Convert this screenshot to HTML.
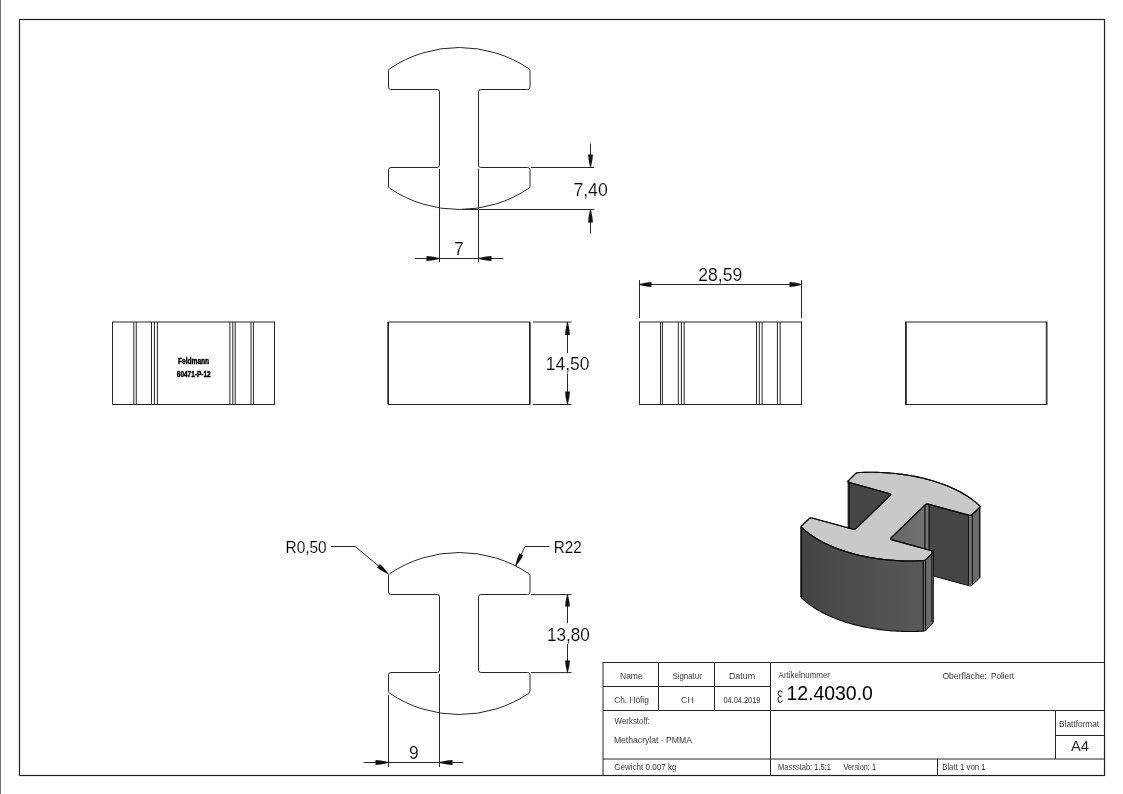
<!DOCTYPE html>
<html><head><meta charset="utf-8"><title>Drawing</title>
<style>html,body{margin:0;padding:0;background:#fff;overflow:hidden}svg{display:block;will-change:transform}</style>
</head><body>
<svg width="1123" height="794" viewBox="0 0 1123 794">
<rect x="0" y="0" width="1123" height="794" fill="#fff"/>
<line x1="0.5" y1="0" x2="0.5" y2="794" stroke="#707070" stroke-width="1"/>
<rect x="19.5" y="19.5" width="1085" height="756" fill="none" stroke="#1e1e1e" stroke-width="1.2"/>
<path d="M388.5,70.8 Q388.5,69.5 389.6,68.75 A124.77,124.77 0 0 1 528.9,68.75 Q530,69.5 530,70.8 L530,87.1 Q530,89.5 527.6,89.5 L480.9,89.5 Q478.5,89.5 478.5,91.9 L478.5,165.1 Q478.5,167.5 480.9,167.5 L527.6,167.5 Q530,167.5 530,169.9 L530,186.2 Q530,187.5 528.9,188.25 A124.77,124.77 0 0 1 389.6,188.25 Q388.5,187.5 388.5,186.2 L388.5,169.9 Q388.5,167.5 390.9,167.5 L437.1,167.5 Q439.5,167.5 439.5,165.1 L439.5,91.9 Q439.5,89.5 437.1,89.5 L390.9,89.5 Q388.5,89.5 388.5,87.1 Z" fill="none" stroke="#262626" stroke-width="1"/>
<line x1="531" y1="167.5" x2="594" y2="167.5" stroke="#262626" stroke-width="1"/>
<line x1="462" y1="209.5" x2="594" y2="209.5" stroke="#262626" stroke-width="1"/>
<line x1="590.5" y1="143.5" x2="590.5" y2="168" stroke="#262626" stroke-width="1"/>
<line x1="590.5" y1="210" x2="590.5" y2="233.5" stroke="#262626" stroke-width="1"/>
<polygon points="590.90,167.50 592.42,159.70 592.90,154.50 588.10,154.50 588.58,159.70 590.10,167.50" fill="#111" stroke="none" stroke-width="1"/>
<polygon points="590.10,209.50 588.58,217.30 588.10,222.50 592.90,222.50 592.42,217.30 590.90,209.50" fill="#111" stroke="none" stroke-width="1"/>
<text x="573.40" y="196.10" font-family="Liberation Sans" font-size="17.88" font-weight="normal" fill="#000" stroke="#fff" stroke-width="0.15" textLength="34.29" lengthAdjust="spacingAndGlyphs">7,40</text>
<line x1="439.5" y1="169" x2="439.5" y2="262" stroke="#262626" stroke-width="1"/>
<line x1="478.5" y1="169" x2="478.5" y2="262" stroke="#262626" stroke-width="1"/>
<line x1="415" y1="258.5" x2="503" y2="258.5" stroke="#262626" stroke-width="1"/>
<polygon points="439.50,258.10 431.70,256.58 426.50,256.10 426.50,260.90 431.70,260.42 439.50,258.90" fill="#111" stroke="none" stroke-width="1"/>
<polygon points="478.50,258.90 486.30,260.42 491.50,260.90 491.50,256.10 486.30,256.58 478.50,258.10" fill="#111" stroke="none" stroke-width="1"/>
<text x="454.10" y="255.00" font-family="Liberation Sans" font-size="18.75" font-weight="normal" fill="#000" stroke="#fff" stroke-width="0.15" textLength="9.79" lengthAdjust="spacingAndGlyphs">7</text>
<rect x="112.5" y="322" width="162.0" height="82.5" fill="none" stroke="#262626" stroke-width="1"/>
<line x1="133.8" y1="322" x2="133.8" y2="404.5" stroke="#262626" stroke-width="1"/>
<line x1="136.25" y1="322" x2="136.25" y2="404.5" stroke="#262626" stroke-width="1"/>
<line x1="151.5" y1="322" x2="151.5" y2="404.5" stroke="#262626" stroke-width="1"/>
<line x1="154.4" y1="322" x2="154.4" y2="404.5" stroke="#262626" stroke-width="1"/>
<line x1="157.4" y1="322" x2="157.4" y2="404.5" stroke="#262626" stroke-width="1"/>
<line x1="229.9" y1="322" x2="229.9" y2="404.5" stroke="#262626" stroke-width="1"/>
<line x1="232.8" y1="322" x2="232.8" y2="404.5" stroke="#262626" stroke-width="1"/>
<line x1="235.2" y1="322" x2="235.2" y2="404.5" stroke="#262626" stroke-width="1"/>
<line x1="251" y1="322" x2="251" y2="404.5" stroke="#262626" stroke-width="1"/>
<line x1="253.4" y1="322" x2="253.4" y2="404.5" stroke="#262626" stroke-width="1"/>
<text x="178.06" y="363.80" font-family="Liberation Sans" font-size="8.43" font-weight="bold" fill="#000" stroke="#000" stroke-width="0.45" textLength="31.05" lengthAdjust="spacingAndGlyphs">Feldmann</text>
<text x="176.86" y="376.70" font-family="Liberation Sans" font-size="8.43" font-weight="bold" fill="#000" stroke="#000" stroke-width="0.45" textLength="33.69" lengthAdjust="spacingAndGlyphs">60471-P-12</text>
<rect x="388.5" y="322" width="141.0" height="82.5" fill="none" stroke="#262626" stroke-width="1"/>
<line x1="387.8" y1="322" x2="387.8" y2="404.5" stroke="#262626" stroke-width="1"/>
<line x1="530.2" y1="322" x2="530.2" y2="404.5" stroke="#262626" stroke-width="1"/>
<line x1="533" y1="322" x2="571.5" y2="322" stroke="#262626" stroke-width="1"/>
<line x1="533" y1="404.5" x2="571.5" y2="404.5" stroke="#262626" stroke-width="1"/>
<line x1="567.5" y1="322" x2="567.5" y2="353" stroke="#262626" stroke-width="1"/>
<line x1="567.5" y1="373.5" x2="567.5" y2="404.5" stroke="#262626" stroke-width="1"/>
<polygon points="567.10,322.00 565.58,329.80 565.10,335.00 569.90,335.00 569.42,329.80 567.90,322.00" fill="#111" stroke="none" stroke-width="1"/>
<polygon points="567.90,404.50 569.42,396.70 569.90,391.50 565.10,391.50 565.58,396.70 567.10,404.50" fill="#111" stroke="none" stroke-width="1"/>
<text x="545.67" y="369.90" font-family="Liberation Sans" font-size="17.44" font-weight="normal" fill="#000" stroke="#fff" stroke-width="0.15" textLength="43.82" lengthAdjust="spacingAndGlyphs">14,50</text>
<rect x="639.5" y="322" width="162.0" height="82.5" fill="none" stroke="#262626" stroke-width="1"/>
<line x1="660.5" y1="322" x2="660.5" y2="404.5" stroke="#262626" stroke-width="1"/>
<line x1="662.4" y1="322" x2="662.4" y2="404.5" stroke="#262626" stroke-width="1"/>
<line x1="678.3" y1="322" x2="678.3" y2="404.5" stroke="#262626" stroke-width="1"/>
<line x1="681.4" y1="322" x2="681.4" y2="404.5" stroke="#262626" stroke-width="1"/>
<line x1="684.2" y1="322" x2="684.2" y2="404.5" stroke="#262626" stroke-width="1"/>
<line x1="756.5" y1="322" x2="756.5" y2="404.5" stroke="#262626" stroke-width="1"/>
<line x1="759.3" y1="322" x2="759.3" y2="404.5" stroke="#262626" stroke-width="1"/>
<line x1="762.1" y1="322" x2="762.1" y2="404.5" stroke="#262626" stroke-width="1"/>
<line x1="777.4" y1="322" x2="777.4" y2="404.5" stroke="#262626" stroke-width="1"/>
<line x1="780.2" y1="322" x2="780.2" y2="404.5" stroke="#262626" stroke-width="1"/>
<line x1="639.5" y1="280" x2="639.5" y2="318" stroke="#262626" stroke-width="1"/>
<line x1="801.5" y1="280" x2="801.5" y2="318" stroke="#262626" stroke-width="1"/>
<line x1="639.5" y1="284.5" x2="801.5" y2="284.5" stroke="#262626" stroke-width="1"/>
<polygon points="639.50,284.90 646.70,286.42 651.50,286.90 651.50,282.10 646.70,282.58 639.50,284.10" fill="#111" stroke="none" stroke-width="1"/>
<polygon points="801.50,284.10 794.30,282.58 789.50,282.10 789.50,286.90 794.30,286.42 801.50,284.90" fill="#111" stroke="none" stroke-width="1"/>
<text x="698.32" y="280.70" font-family="Liberation Sans" font-size="18.46" font-weight="normal" fill="#000" stroke="#fff" stroke-width="0.15" textLength="43.91" lengthAdjust="spacingAndGlyphs">28,59</text>
<rect x="905.5" y="322" width="141.5" height="82.5" fill="none" stroke="#262626" stroke-width="1"/>
<line x1="906.3" y1="322" x2="906.3" y2="404.5" stroke="#262626" stroke-width="1"/>
<line x1="1046.3" y1="322" x2="1046.3" y2="404.5" stroke="#262626" stroke-width="1"/>
<path d="M388.5,575.8 Q388.5,574.5 389.6,573.75 A124.77,124.77 0 0 1 528.9,573.75 Q530,574.5 530,575.8 L530,592.1 Q530,594.5 527.6,594.5 L480.9,594.5 Q478.5,594.5 478.5,596.9 L478.5,670.1 Q478.5,672.5 480.9,672.5 L527.6,672.5 Q530,672.5 530,674.9 L530,691.2 Q530,692.5 528.9,693.25 A124.77,124.77 0 0 1 389.6,693.25 Q388.5,692.5 388.5,691.2 L388.5,674.9 Q388.5,672.5 390.9,672.5 L437.1,672.5 Q439.5,672.5 439.5,670.1 L439.5,596.9 Q439.5,594.5 437.1,594.5 L390.9,594.5 Q388.5,594.5 388.5,592.1 Z" fill="none" stroke="#262626" stroke-width="1"/>
<text x="285.53" y="552.60" font-family="Liberation Sans" font-size="16.57" font-weight="normal" fill="#000" stroke="#fff" stroke-width="0.15" textLength="41.17" lengthAdjust="spacingAndGlyphs">R0,50</text>
<line x1="330.8" y1="546.5" x2="355.1" y2="546.5" stroke="#262626" stroke-width="1"/>
<line x1="355.1" y1="546.5" x2="388.1" y2="573.8" stroke="#262626" stroke-width="1"/>
<polygon points="388.35,573.49 383.49,567.60 379.93,564.06 377.00,567.60 381.15,570.44 387.85,574.11" fill="#111" stroke="none" stroke-width="1"/>
<text x="553.65" y="553.00" font-family="Liberation Sans" font-size="17.01" font-weight="normal" fill="#000" stroke="#fff" stroke-width="0.15" textLength="28.02" lengthAdjust="spacingAndGlyphs">R22</text>
<line x1="525.1" y1="546.5" x2="549.5" y2="546.5" stroke="#262626" stroke-width="1"/>
<line x1="525.1" y1="546.5" x2="515.7" y2="565.7" stroke="#262626" stroke-width="1"/>
<polygon points="516.06,565.88 520.65,559.77 523.26,555.48 519.13,553.46 517.35,558.15 515.34,565.52" fill="#111" stroke="none" stroke-width="1"/>
<line x1="531" y1="594.6" x2="571.6" y2="594.6" stroke="#262626" stroke-width="1"/>
<line x1="531" y1="672.6" x2="571.6" y2="672.6" stroke="#262626" stroke-width="1"/>
<line x1="567.5" y1="594.6" x2="567.5" y2="623.2" stroke="#262626" stroke-width="1"/>
<line x1="567.5" y1="644" x2="567.5" y2="672.6" stroke="#262626" stroke-width="1"/>
<polygon points="567.10,594.60 565.58,601.80 565.10,606.60 569.90,606.60 569.42,601.80 567.90,594.60" fill="#111" stroke="none" stroke-width="1"/>
<polygon points="567.90,672.60 569.42,665.40 569.90,660.60 565.10,660.60 565.58,665.40 567.10,672.60" fill="#111" stroke="none" stroke-width="1"/>
<text x="546.99" y="640.70" font-family="Liberation Sans" font-size="18.17" font-weight="normal" fill="#000" stroke="#fff" stroke-width="0.15" textLength="42.87" lengthAdjust="spacingAndGlyphs">13,80</text>
<line x1="388.5" y1="695" x2="388.5" y2="767" stroke="#262626" stroke-width="1"/>
<line x1="439.5" y1="674" x2="439.5" y2="767" stroke="#262626" stroke-width="1"/>
<line x1="364" y1="762.5" x2="463" y2="762.5" stroke="#262626" stroke-width="1"/>
<polygon points="388.50,762.10 380.70,760.58 375.50,760.10 375.50,764.90 380.70,764.42 388.50,762.90" fill="#111" stroke="none" stroke-width="1"/>
<polygon points="439.50,762.90 447.30,764.42 452.50,764.90 452.50,760.10 447.30,760.58 439.50,762.10" fill="#111" stroke="none" stroke-width="1"/>
<text x="408.89" y="759.30" font-family="Liberation Sans" font-size="18.60" font-weight="normal" fill="#000" stroke="#fff" stroke-width="0.15" textLength="9.63" lengthAdjust="spacingAndGlyphs">9</text>
<line x1="603" y1="662.5" x2="1104.5" y2="662.5" stroke="#262626" stroke-width="1"/>
<line x1="603.0" y1="662" x2="603.0" y2="775.5" stroke="#262626" stroke-width="1"/>
<line x1="603" y1="686.5" x2="770.5" y2="686.5" stroke="#262626" stroke-width="1"/>
<line x1="603" y1="710.5" x2="1104.5" y2="710.5" stroke="#262626" stroke-width="1"/>
<line x1="603" y1="759.0" x2="1104.5" y2="759.0" stroke="#262626" stroke-width="1"/>
<line x1="1055.5" y1="735.5" x2="1104.5" y2="735.5" stroke="#262626" stroke-width="1"/>
<line x1="658.5" y1="662.5" x2="658.5" y2="710.5" stroke="#262626" stroke-width="1"/>
<line x1="714.5" y1="662.5" x2="714.5" y2="710.5" stroke="#262626" stroke-width="1"/>
<line x1="770.5" y1="662.5" x2="770.5" y2="775.5" stroke="#262626" stroke-width="1"/>
<line x1="937.5" y1="759.0" x2="937.5" y2="775.5" stroke="#262626" stroke-width="1"/>
<line x1="1055.5" y1="710.5" x2="1055.5" y2="759.0" stroke="#262626" stroke-width="1"/>
<text x="620.00" y="679.00" font-family="Liberation Sans" font-size="8.14" font-weight="normal" fill="#111" stroke="#fff" stroke-width="0.08" textLength="22.68" lengthAdjust="spacingAndGlyphs">Name</text>
<text x="672.44" y="679.00" font-family="Liberation Sans" font-size="8.14" font-weight="normal" fill="#111" stroke="#fff" stroke-width="0.08" textLength="29.39" lengthAdjust="spacingAndGlyphs">Signatur</text>
<text x="728.97" y="679.00" font-family="Liberation Sans" font-size="8.14" font-weight="normal" fill="#111" stroke="#fff" stroke-width="0.08" textLength="26.11" lengthAdjust="spacingAndGlyphs">Datum</text>
<text x="614.18" y="702.90" font-family="Liberation Sans" font-size="9.16" font-weight="normal" fill="#111" stroke="#fff" stroke-width="0.08" textLength="34.66" lengthAdjust="spacingAndGlyphs">Ch. Höfig</text>
<text x="681.05" y="703.10" font-family="Liberation Sans" font-size="8.87" font-weight="normal" fill="#111" stroke="#fff" stroke-width="0.08" textLength="12.66" lengthAdjust="spacingAndGlyphs">CH</text>
<text x="723.41" y="703.10" font-family="Liberation Sans" font-size="8.87" font-weight="normal" fill="#111" stroke="#fff" stroke-width="0.08" textLength="37.04" lengthAdjust="spacingAndGlyphs">04.04.2019</text>
<text x="614.57" y="723.90" font-family="Liberation Sans" font-size="8.14" font-weight="normal" fill="#111" stroke="#fff" stroke-width="0.08" textLength="35.35" lengthAdjust="spacingAndGlyphs">Werkstoff:</text>
<text x="613.89" y="743.20" font-family="Liberation Sans" font-size="9.45" font-weight="normal" fill="#111" stroke="#fff" stroke-width="0.08" textLength="78.12" lengthAdjust="spacingAndGlyphs">Methacrylat - PMMA</text>
<text x="614.19" y="770.40" font-family="Liberation Sans" font-size="9.30" font-weight="normal" fill="#111" stroke="#fff" stroke-width="0.08" textLength="62.33" lengthAdjust="spacingAndGlyphs">Gewicht 0.007 kg</text>
<text x="778.58" y="678.20" font-family="Liberation Sans" font-size="8.14" font-weight="normal" fill="#111" stroke="#fff" stroke-width="0.08" textLength="51.45" lengthAdjust="spacingAndGlyphs">Artikelnummer</text>
<text x="777.0" y="702.6" font-family="Liberation Sans" font-size="23" fill="#111" stroke="#fff" stroke-width="0.35" textLength="6.2" lengthAdjust="spacingAndGlyphs">ε</text>
<text x="786.42" y="699.90" font-family="Liberation Sans" font-size="19.77" font-weight="normal" fill="#000" textLength="86.44" lengthAdjust="spacingAndGlyphs">12.4030.0</text>
<text x="777.98" y="770.40" font-family="Liberation Sans" font-size="8.58" font-weight="normal" fill="#111" stroke="#fff" stroke-width="0.08" textLength="52.98" lengthAdjust="spacingAndGlyphs">Massstab: 1.5:1</text>
<text x="843.47" y="770.40" font-family="Liberation Sans" font-size="8.58" font-weight="normal" fill="#111" stroke="#fff" stroke-width="0.08" textLength="32.48" lengthAdjust="spacingAndGlyphs">Version: 1</text>
<text x="942.39" y="678.70" font-family="Liberation Sans" font-size="9.30" font-weight="normal" fill="#111" stroke="#fff" stroke-width="0.08" textLength="44.49" lengthAdjust="spacingAndGlyphs">Oberfläche:</text>
<text x="991.03" y="678.70" font-family="Liberation Sans" font-size="9.30" font-weight="normal" fill="#111" stroke="#fff" stroke-width="0.08" textLength="23.13" lengthAdjust="spacingAndGlyphs">Poliert</text>
<text x="1059.12" y="727.10" font-family="Liberation Sans" font-size="9.30" font-weight="normal" fill="#111" stroke="#fff" stroke-width="0.08" textLength="40.04" lengthAdjust="spacingAndGlyphs">Blattformat</text>
<text x="1070.97" y="751.20" font-family="Liberation Sans" font-size="13.95" font-weight="normal" fill="#111" stroke="#fff" stroke-width="0.08" textLength="18.16" lengthAdjust="spacingAndGlyphs">A4</text>
<text x="942.16" y="770.40" font-family="Liberation Sans" font-size="8.58" font-weight="normal" fill="#111" stroke="#fff" stroke-width="0.08" textLength="43.52" lengthAdjust="spacingAndGlyphs">Blatt 1 von 1</text>
<defs><linearGradient id="gf" x1="0" x2="1" y1="0" y2="0"><stop offset="0" stop-color="#444"/><stop offset="1" stop-color="#595959"/></linearGradient><linearGradient id="gs" x1="0" x2="1" y1="0" y2="0"><stop offset="0" stop-color="#656565"/><stop offset="1" stop-color="#727272"/></linearGradient></defs>
<polygon points="848.38,480.61 849.54,482.59 889.11,493.41 889.11,563.91 848.38,551.11" fill="#454545" stroke="#0d0d0d" stroke-width="1"/>
<polygon points="928.92,504.29 968.49,515.11 968.49,585.61 928.92,574.79" fill="#454545" stroke="#0d0d0d" stroke-width="1"/>
<polygon points="972.31,514.50 979.70,507.34 979.70,577.84 972.31,585.00" fill="#6b6b6b" stroke="#0d0d0d" stroke-width="1"/>
<polygon points="972.31,514.50 971.83,514.88 971.29,515.14 970.69,515.30 970.02,515.35 969.29,515.29 968.49,515.11 968.49,585.61 969.29,585.79 970.02,585.85 970.69,585.80 971.29,585.64 971.83,585.38 972.31,585.00" fill="#727272" stroke="#0d0d0d" stroke-width="0.9"/>
<polygon points="979.73,505.99 979.91,506.22 980.02,506.44 980.06,506.67 980.01,506.89 979.89,507.12 979.70,507.34 979.70,577.84 979.89,577.62 980.01,577.39 980.06,577.17 980.02,576.94 979.91,576.72 979.73,576.49" fill="#6b6b6b" stroke="#0d0d0d" stroke-width="0.9"/>
<polygon points="891.06,537.90 925.10,504.91 925.10,575.41 891.06,608.40" fill="url(#gs)" stroke="#0d0d0d" stroke-width="1"/>
<polygon points="928.92,504.29 928.12,504.12 927.39,504.06 926.72,504.11 926.12,504.26 925.58,504.53 925.10,504.91 925.10,575.41 925.58,575.03 926.12,574.76 926.72,574.61 927.39,574.56 928.12,574.62 928.92,574.79" fill="#777" stroke="#0d0d0d" stroke-width="0.9"/>
<polygon points="849.54,482.59 848.82,482.34 848.30,482.06 848.01,481.75 847.92,481.41 848.05,481.03 848.38,480.61 855.77,473.45 856.03,473.24 856.32,473.07 856.66,472.92 857.04,472.81 857.46,472.73 857.93,472.68 860.73,472.50 864.85,472.36 868.89,472.29 872.87,472.28 876.78,472.35 880.62,472.47 884.41,472.65 888.13,472.89 891.80,473.18 895.42,473.53 898.98,473.93 902.49,474.37 905.95,474.87 909.36,475.42 912.72,476.01 916.03,476.65 919.29,477.34 922.51,478.07 925.68,478.85 928.80,479.68 931.87,480.55 934.90,481.46 937.88,482.42 940.81,483.43 943.70,484.48 946.53,485.58 949.32,486.73 952.06,487.93 954.75,489.18 957.38,490.47 959.96,491.82 962.49,493.22 964.96,494.68 967.37,496.19 969.72,497.76 972.01,499.39 974.23,501.09 976.38,502.86 978.46,504.69 979.73,505.99 979.91,506.22 980.02,506.44 980.06,506.67 980.01,506.89 979.89,507.12 979.70,507.34 972.31,514.50 971.83,514.88 971.29,515.14 970.69,515.30 970.02,515.35 969.29,515.29 968.49,515.11 928.92,504.29 928.12,504.12 927.39,504.06 926.72,504.11 926.12,504.26 925.58,504.53 925.10,504.91 891.06,537.90 890.72,538.32 890.59,538.70 890.68,539.04 890.98,539.36 891.49,539.63 892.21,539.88 931.78,550.70 932.50,550.94 933.01,551.22 933.31,551.53 933.40,551.88 933.27,552.26 932.93,552.67 925.54,559.83 925.29,560.04 924.99,560.22 924.66,560.36 924.28,560.47 923.85,560.55 923.39,560.60 920.59,560.78 916.47,560.93 912.42,561.00 908.45,561.00 904.54,560.94 900.70,560.82 896.91,560.63 893.18,560.40 889.51,560.10 885.90,559.76 882.34,559.36 878.83,558.91 875.37,558.41 871.96,557.87 868.60,557.27 865.29,556.63 862.03,555.95 858.81,555.21 855.64,554.43 852.52,553.61 849.44,552.74 846.42,551.82 843.44,550.86 840.50,549.85 837.62,548.80 834.78,547.70 831.99,546.55 829.26,545.35 826.57,544.11 823.94,542.81 821.35,541.46 818.83,540.06 816.36,538.61 813.95,537.09 811.60,535.52 809.31,533.89 807.09,532.19 804.94,530.43 802.86,528.59 801.58,527.29 801.40,527.07 801.29,526.84 801.26,526.62 801.30,526.39 801.42,526.17 801.62,525.94 809.00,518.78 809.48,518.41 810.02,518.14 810.63,517.98 811.30,517.94 812.03,518.00 812.83,518.17 852.39,528.99 853.19,529.16 853.92,529.22 854.59,529.18 855.20,529.02 855.74,528.75 856.22,528.38 890.26,495.38 890.60,494.97 890.72,494.59 890.64,494.24 890.34,493.93 889.83,493.65 889.11,493.41" fill="#c9c9c9" stroke="#0d0d0d" stroke-width="1.1" stroke-linejoin="round"/>
<line x1="848.8195788888889" y1="481.4068144444445" x2="848.8195788888889" y2="528.4068144444445" stroke="#1a1a1a" stroke-width="2.2"/>
<polygon points="923.34,560.65 920.60,560.78 917.89,560.89 915.21,560.96 912.57,561.00 909.96,561.01 907.37,560.99 904.81,560.94 902.28,560.87 899.78,560.78 897.30,560.66 894.85,560.51 892.42,560.34 890.02,560.15 887.64,559.93 885.28,559.69 882.95,559.43 880.64,559.15 878.35,558.84 876.08,558.52 873.84,558.17 871.61,557.81 869.41,557.42 867.23,557.01 865.06,556.59 862.92,556.14 860.80,555.67 858.70,555.19 856.62,554.68 854.56,554.15 852.52,553.61 850.50,553.04 848.50,552.46 846.52,551.86 844.56,551.23 842.62,550.59 840.70,549.92 838.81,549.24 836.93,548.54 835.07,547.82 833.24,547.07 831.42,546.31 829.63,545.52 827.86,544.72 826.11,543.89 824.38,543.04 822.68,542.17 821.00,541.27 819.34,540.36 817.71,539.41 816.10,538.45 814.52,537.46 812.96,536.45 811.43,535.41 809.93,534.34 808.45,533.25 807.01,532.13 805.59,530.98 804.21,529.80 802.85,528.59 801.53,527.34 801.53,597.84 802.85,599.09 804.21,600.30 805.59,601.48 807.01,602.63 808.45,603.75 809.93,604.84 811.43,605.91 812.96,606.95 814.52,607.96 816.10,608.95 817.71,609.91 819.34,610.86 821.00,611.77 822.68,612.67 824.38,613.54 826.11,614.39 827.86,615.22 829.63,616.02 831.42,616.81 833.24,617.57 835.07,618.32 836.93,619.04 838.81,619.74 840.70,620.42 842.62,621.09 844.56,621.73 846.52,622.36 848.50,622.96 850.50,623.54 852.52,624.11 854.56,624.65 856.62,625.18 858.70,625.69 860.80,626.17 862.92,626.64 865.06,627.09 867.23,627.51 869.41,627.92 871.61,628.31 873.84,628.67 876.08,629.02 878.35,629.34 880.64,629.65 882.95,629.93 885.28,630.19 887.64,630.43 890.02,630.65 892.42,630.84 894.85,631.01 897.30,631.16 899.78,631.28 902.28,631.37 904.81,631.44 907.37,631.49 909.96,631.51 912.57,631.50 915.21,631.46 917.89,631.39 920.60,631.28 923.34,631.15" fill="url(#gf)" stroke="#0d0d0d" stroke-width="1.1" stroke-linejoin="round"/>
<polygon points="925.54,559.83 925.29,560.04 924.99,560.22 924.66,560.36 924.28,560.47 923.85,560.55 923.39,560.60 923.39,631.10 923.85,631.05 924.28,630.97 924.66,630.86 924.99,630.72 925.29,630.54 925.54,630.33" fill="#727272" stroke="#0d0d0d" stroke-width="0.9"/>
<polygon points="925.54,559.83 932.93,552.67 932.93,623.17 925.54,630.33" fill="#6b6b6b" stroke="#0d0d0d" stroke-width="1"/>
<polygon points="931.78,550.70 932.50,550.94 933.01,551.22 933.31,551.53 933.31,622.03 933.01,621.72 932.50,621.44 931.78,621.20" fill="#6b6b6b" stroke="#0d0d0d" stroke-width="0.9"/>
<line x1="801.1603266704391" y1="526.6185372658937" x2="801.1603266704391" y2="597.1185372658937" stroke="#111" stroke-width="1.8"/>
<polygon points="849.54,482.59 848.82,482.34 848.30,482.06 848.01,481.75 847.92,481.41 848.05,481.03 848.38,480.61 855.77,473.45 856.03,473.24 856.32,473.07 856.66,472.92 857.04,472.81 857.46,472.73 857.93,472.68 860.73,472.50 864.85,472.36 868.89,472.29 872.87,472.28 876.78,472.35 880.62,472.47 884.41,472.65 888.13,472.89 891.80,473.18 895.42,473.53 898.98,473.93 902.49,474.37 905.95,474.87 909.36,475.42 912.72,476.01 916.03,476.65 919.29,477.34 922.51,478.07 925.68,478.85 928.80,479.68 931.87,480.55 934.90,481.46 937.88,482.42 940.81,483.43 943.70,484.48 946.53,485.58 949.32,486.73 952.06,487.93 954.75,489.18 957.38,490.47 959.96,491.82 962.49,493.22 964.96,494.68 967.37,496.19 969.72,497.76 972.01,499.39 974.23,501.09 976.38,502.86 978.46,504.69 979.73,505.99 979.91,506.22 980.02,506.44 980.06,506.67 980.01,506.89 979.89,507.12 979.70,507.34 972.31,514.50 971.83,514.88 971.29,515.14 970.69,515.30 970.02,515.35 969.29,515.29 968.49,515.11 928.92,504.29 928.12,504.12 927.39,504.06 926.72,504.11 926.12,504.26 925.58,504.53 925.10,504.91 891.06,537.90 890.72,538.32 890.59,538.70 890.68,539.04 890.98,539.36 891.49,539.63 892.21,539.88 931.78,550.70 932.50,550.94 933.01,551.22 933.31,551.53 933.40,551.88 933.27,552.26 932.93,552.67 925.54,559.83 925.29,560.04 924.99,560.22 924.66,560.36 924.28,560.47 923.85,560.55 923.39,560.60 920.59,560.78 916.47,560.93 912.42,561.00 908.45,561.00 904.54,560.94 900.70,560.82 896.91,560.63 893.18,560.40 889.51,560.10 885.90,559.76 882.34,559.36 878.83,558.91 875.37,558.41 871.96,557.87 868.60,557.27 865.29,556.63 862.03,555.95 858.81,555.21 855.64,554.43 852.52,553.61 849.44,552.74 846.42,551.82 843.44,550.86 840.50,549.85 837.62,548.80 834.78,547.70 831.99,546.55 829.26,545.35 826.57,544.11 823.94,542.81 821.35,541.46 818.83,540.06 816.36,538.61 813.95,537.09 811.60,535.52 809.31,533.89 807.09,532.19 804.94,530.43 802.86,528.59 801.58,527.29 801.40,527.07 801.29,526.84 801.26,526.62 801.30,526.39 801.42,526.17 801.62,525.94 809.00,518.78 809.48,518.41 810.02,518.14 810.63,517.98 811.30,517.94 812.03,518.00 812.83,518.17 852.39,528.99 853.19,529.16 853.92,529.22 854.59,529.18 855.20,529.02 855.74,528.75 856.22,528.38 890.26,495.38 890.60,494.97 890.72,494.59 890.64,494.24 890.34,493.93 889.83,493.65 889.11,493.41" fill="none" stroke="#0d0d0d" stroke-width="1.1" stroke-linejoin="round"/>
</svg>
</body></html>
